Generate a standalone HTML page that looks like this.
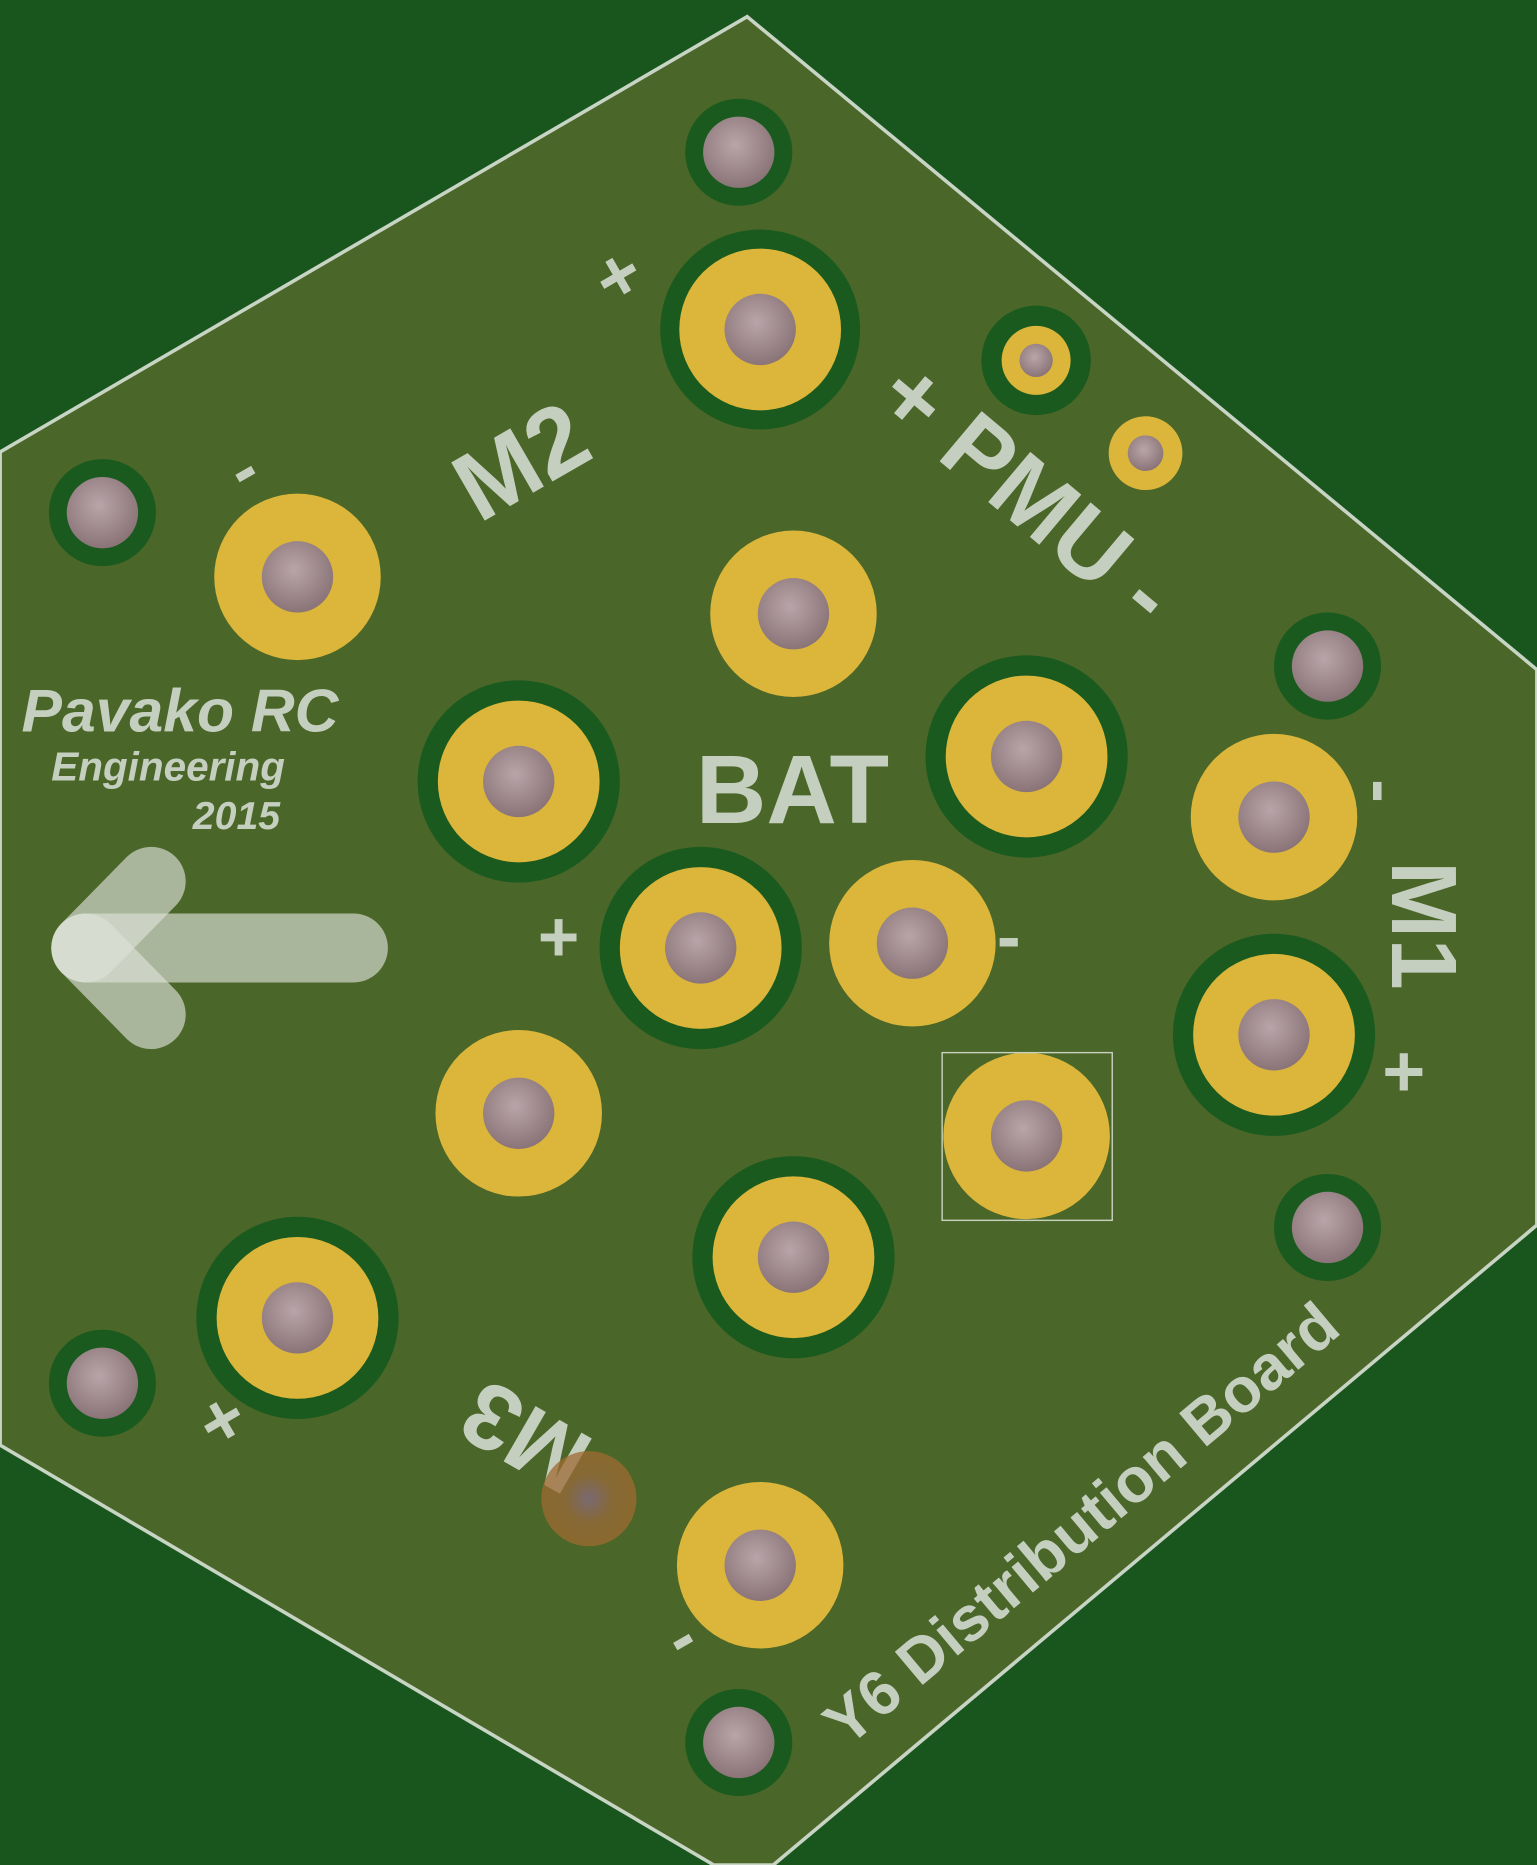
<!DOCTYPE html>
<html><head><meta charset="utf-8"><style>
html,body{margin:0;padding:0;background:#18561e;}
svg{display:block}
text{font-family:"Liberation Sans",sans-serif;fill:#c5cfbf;font-weight:bold}
</style></head><body>
<svg width="1537" height="1865" viewBox="0 0 1292 1568" xmlns="http://www.w3.org/2000/svg">
<defs>
<radialGradient id="h" cx="45%" cy="40%" r="60%"><stop offset="0" stop-color="#b9a5a9"/><stop offset="1" stop-color="#8a7478"/></radialGradient>
<radialGradient id="o" cx="50%" cy="50%" r="50%"><stop offset="0" stop-color="#8a6a8a"/><stop offset="0.5" stop-color="#9a6a3a"/><stop offset="1" stop-color="#a06a30"/></radialGradient>
</defs>
<rect width="1292" height="1568" fill="#18561e"/>
<polygon points="628,14 1292,563 1292,1030 650,1568 600,1568 0,1215 0,380" fill="#4a6628" stroke="#c8d4c4" stroke-width="3"/>
<g fill="#1a5a1e"><circle cx="621" cy="128" r="45"/><circle cx="86" cy="431" r="45"/><circle cx="1116" cy="560" r="45"/><circle cx="1116" cy="1032" r="45"/><circle cx="86" cy="1163" r="45"/><circle cx="621" cy="1465" r="45"/>
<circle cx="639" cy="277" r="84"/><circle cx="436" cy="657" r="85"/><circle cx="863" cy="636" r="85"/><circle cx="589" cy="797" r="85"/><circle cx="1071" cy="870" r="85"/><circle cx="667" cy="1057" r="85"/><circle cx="250" cy="1108" r="85"/><circle cx="871" cy="303" r="46"/></g>
<g fill="#dbb63a">
<circle cx="639" cy="277" r="68"/><circle cx="436" cy="657" r="68"/><circle cx="863" cy="636" r="68"/><circle cx="589" cy="797" r="68"/><circle cx="1071" cy="870" r="68"/><circle cx="667" cy="1057" r="68"/><circle cx="250" cy="1108" r="68"/>
<circle cx="250" cy="485" r="70"/><circle cx="667" cy="516" r="70"/><circle cx="1071" cy="687" r="70"/><circle cx="767" cy="793" r="70"/><circle cx="436" cy="936" r="70"/><circle cx="863" cy="955" r="70"/><circle cx="639" cy="1316" r="70"/>
<circle cx="871" cy="303" r="29"/><circle cx="963" cy="381" r="31"/></g>
<g fill="url(#h)">
<circle cx="621" cy="128" r="30"/><circle cx="86" cy="431" r="30"/><circle cx="1116" cy="560" r="30"/><circle cx="1116" cy="1032" r="30"/><circle cx="86" cy="1163" r="30"/><circle cx="621" cy="1465" r="30"/>
<circle cx="639" cy="277" r="30"/><circle cx="436" cy="657" r="30"/><circle cx="863" cy="636" r="30"/><circle cx="589" cy="797" r="30"/><circle cx="1071" cy="870" r="30"/><circle cx="667" cy="1057" r="30"/><circle cx="250" cy="1108" r="30"/>
<circle cx="250" cy="485" r="30"/><circle cx="667" cy="516" r="30"/><circle cx="1071" cy="687" r="30"/><circle cx="767" cy="793" r="30"/><circle cx="436" cy="936" r="30"/><circle cx="863" cy="955" r="30"/><circle cx="639" cy="1316" r="30"/>
<circle cx="871" cy="303" r="14"/><circle cx="963" cy="381" r="15"/></g>
<rect x="792" y="885" width="143" height="141" fill="none" stroke="#c8d0c0" stroke-width="1.2"/>
<g stroke="#dde2d8" stroke-linecap="round" stroke-width="58" fill="none">
<line x1="72" y1="797" x2="297" y2="797" opacity="0.65"/>
<line x1="72" y1="797" x2="127" y2="741" opacity="0.65"/>
<line x1="72" y1="797" x2="127" y2="853" opacity="0.65"/>
</g>
<text x="18" y="615" font-size="51" font-style="italic">Pavako RC</text>
<text x="43" y="656" font-size="34" font-style="italic">Engineering</text>
<text x="162" y="697" font-size="33" font-style="italic">2015</text>
<text x="585" y="692" font-size="82">BAT</text>
<text x="452" y="808" font-size="60">+</text>
<text x="838" y="808" font-size="60">-</text>
<text transform="translate(452,412) rotate(-30)" font-size="82" text-anchor="middle">M2</text>
<text transform="translate(530,250) rotate(-30)" font-size="62" text-anchor="middle">+</text>
<text transform="translate(214,412) rotate(-30)" font-size="60" text-anchor="middle">-</text>
<text transform="translate(733,340) rotate(40)" font-size="80">+ PMU -</text>
<text transform="translate(1170,778) rotate(90)" font-size="78" text-anchor="middle">M1</text>
<text transform="translate(1142,665) rotate(90)" font-size="60" text-anchor="middle">-</text>
<text transform="translate(1162,922)" font-size="62">+</text>
<text transform="translate(455,1185) rotate(210)" font-size="78" text-anchor="middle">M3</text>
<circle cx="495" cy="1260" r="40" fill="url(#o)" opacity="0.75"/>
<text transform="translate(197,1212) rotate(-30)" font-size="62" text-anchor="middle">+</text>
<text transform="translate(582,1394) rotate(-30)" font-size="60" text-anchor="middle">-</text>
<text transform="translate(712,1470) rotate(-40)" font-size="53">Y6 Distribution Board</text>
</svg>
</body></html>
